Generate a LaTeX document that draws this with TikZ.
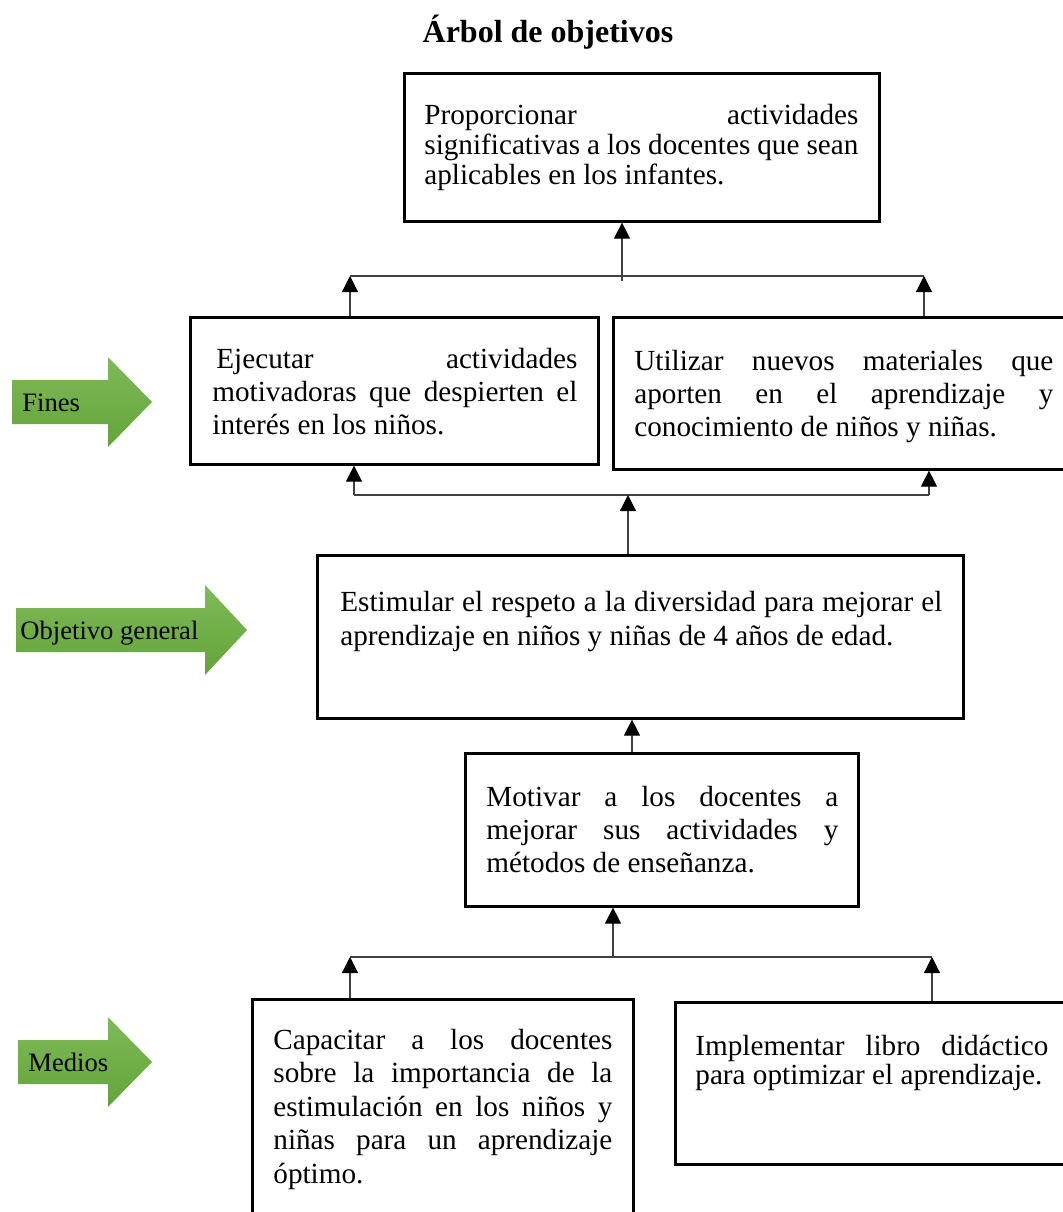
\documentclass[tikz,border=0pt]{standalone}
\usepackage{fontspec}
\setmainfont{Liberation Serif}
\usetikzlibrary{arrows.meta}
\definecolor{verdeclaro}{RGB}{127,186,88}
\definecolor{verdeoscuro}{RGB}{99,164,58}
\hyphenpenalty=10000
\exhyphenpenalty=10000

\begin{document}
\begin{tikzpicture}
  [x=0.5pt,y=-0.5pt,
   caja/.style={draw,line width=1.3pt,inner sep=0pt,anchor=north west},
   texto/.style={anchor=base west,inner sep=0pt,align=justify,font=\fontsize{14.6}{16.5}\selectfont},
   linea/.style={draw=black!75,line width=0.6pt},
   flecha/.style={linea,-{Triangle[width=8pt,length=8pt,color=black]}},
   etiqueta/.style={anchor=base west,inner sep=0pt,font=\fontsize{13.3}{15}\selectfont}]
  \useasboundingbox (0,0) rectangle (1063,1212);
  \clip (0,0) rectangle (1063,1212);

  \node[anchor=base,inner sep=0pt,font=\fontsize{16}{19}\selectfont\bfseries] (titulo) at (548,42) {Árbol de objetivos};

  % flechas verdes
  \foreach \xa/\xb/\xc/\yc/\tx/\nom/\txt in {12/108/152/402/22/fines/Fines,16/205/247/630/20/objetivo/Objetivo general,18/108/152/1062/28/medios/Medios}{
    \shade[top color=verdeclaro,bottom color=verdeoscuro] (\xa,\yc-22) -- (\xb,\yc-22) -- (\xb,\yc-45) -- (\xc,\yc) -- (\xb,\yc+45) -- (\xb,\yc+22) -- (\xa,\yc+22) -- cycle;
    \node[etiqueta] (\nom) at (\tx,\yc+9) {\txt};
  }

  % cajas
  \node[caja,minimum width=237.5pt,minimum height=74pt] (meta) at (403,72) {};
  \node[caja,minimum width=204pt,minimum height=73.5pt] (ejec) at (189,316) {};
  \node[caja,minimum width=232.5pt,minimum height=76pt] (util) at (612,316) {};
  \node[caja,minimum width=323pt,minimum height=81.5pt] (estim) at (316,554) {};
  \node[caja,minimum width=196.5pt,minimum height=76.5pt] (motiv) at (464,752) {};
  \node[caja,minimum width=190.5pt,minimum height=120pt] (capac) at (251,998) {};
  \node[caja,minimum width=201.5pt,minimum height=81pt] (impl) at (674,1001) {};

  % textos
  \node[texto,text width=217pt,font=\fontsize{14.6}{15}\selectfont] (meta-t) at (424,124)
    {Proporcionar actividades\linebreak significativas a los docentes que sean\linebreak aplicables en los infantes.};
  \node[texto,text width=182.5pt] (ejec-t) at (212,368)
    {\hspace*{2pt}Ejecutar actividades\linebreak motivadoras que despierten el\linebreak inter\'es en los niños.};
  \node[texto,text width=209.5pt] (util-t) at (634,370)
    {Utilizar nuevos materiales que\linebreak aporten en el aprendizaje y\linebreak conocimiento de niños y niñas.};
  \node[texto,text width=301pt,font=\fontsize{14.6}{17}\selectfont] (estim-t) at (340,611)
    {Estimular el respeto a la diversidad para mejorar el\linebreak aprendizaje en niños y niñas de 4 años de edad.};
  \node[texto,text width=176pt] (motiv-t) at (486,806)
    {Motivar a los docentes a\linebreak mejorar sus actividades y\linebreak métodos de enseñanza.};
  \node[texto,text width=169.5pt,font=\fontsize{14.6}{16.75}\selectfont] (capac-t) at (273,1049)
    {Capacitar a los docentes\linebreak sobre la importancia de la\linebreak estimulación en los niños y\linebreak niñas para un aprendizaje\linebreak óptimo.};
  \node[texto,text width=176.5pt,font=\fontsize{14.6}{14.6}\selectfont] (impl-t) at (695,1055)
    {Implementar libro didáctico\linebreak para optimizar el aprendizaje.};

  % conectores de fines
  \coordinate (u0) at (622,281);
  \coordinate (u1) at (350,276);
  \coordinate (u2) at (924,276);
  \draw[linea] (u1) -- (u2);
  \draw[flecha] (u0) -- (meta.south -| u0);
  \draw[flecha] (ejec.north -| u1) -- (u1);
  \draw[flecha] (util.north -| u2) -- (u2);

  % conectores del objetivo general
  \coordinate (m0) at (628,495);
  \coordinate (m1) at (354,495);
  \coordinate (m2) at (929,495);
  \draw[linea] (m1) -- (m2);
  \draw[flecha] (m1) -- (ejec.south -| m1);
  \draw[flecha] (m2) -- (util.south -| m2);
  \draw[flecha] (estim.north -| m0) -- (m0);

  \coordinate (k0) at (632,735);
  \draw[flecha] (motiv.north -| k0) -- (estim.south -| k0);

  % conectores de medios
  \coordinate (b0) at (613,957);
  \coordinate (b1) at (350,957);
  \coordinate (b2) at (932,957);
  \draw[linea] (b1) -- (b2);
  \draw[flecha] (b0) -- (motiv.south -| b0);
  \draw[flecha] (capac.north -| b1) -- (b1);
  \draw[flecha] (impl.north -| b2) -- (b2);
\end{tikzpicture}
\end{document}
